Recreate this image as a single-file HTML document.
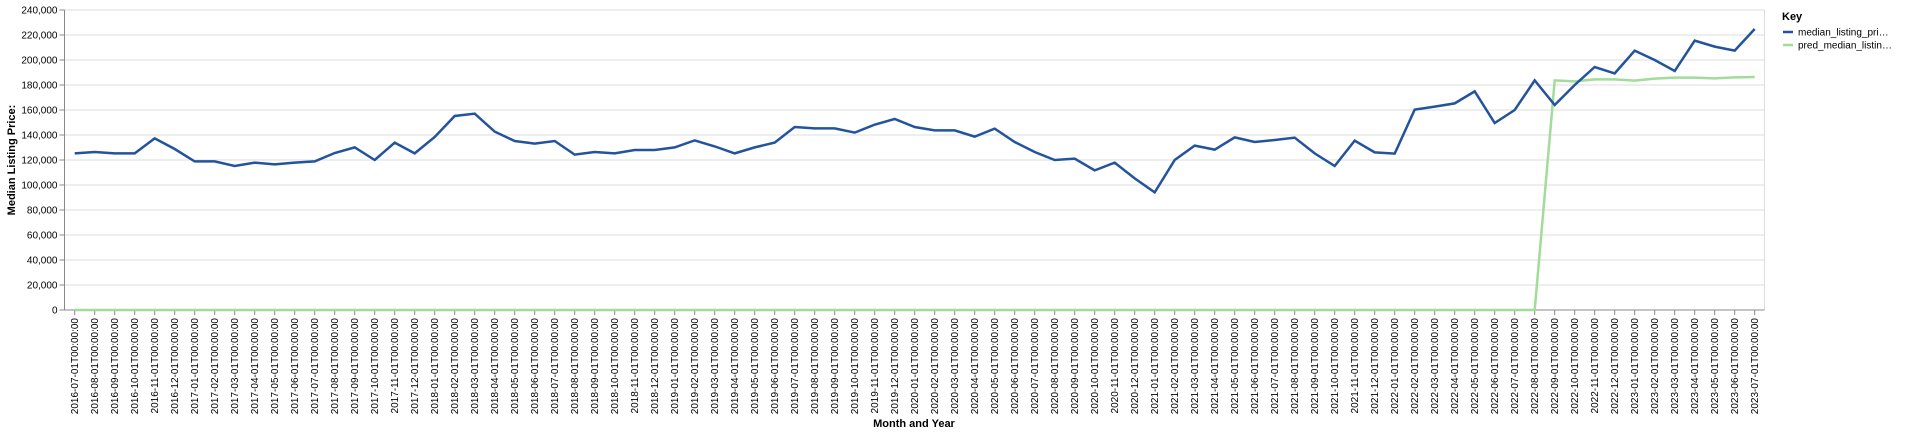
<!DOCTYPE html>
<html><head><meta charset="utf-8">
<style>
html,body{margin:0;padding:0;background:#fff;}
svg{display:block;font-family:"Liberation Sans",sans-serif;}
</style></head>
<body>
<svg id="chart" width="1920" height="434" viewBox="0 0 1920 434" xmlns="http://www.w3.org/2000/svg">
  <g id="grid"></g>
  <g id="yaxis"></g>
  <g id="xaxis"></g>
  <g id="series"></g>
  <text x="914" y="427" text-anchor="middle" font-size="11" font-weight="bold" fill="#000">Month and Year</text>
  <text transform="translate(15,160) rotate(-90)" text-anchor="middle" font-size="11" font-weight="bold" fill="#000">Median Listing Price:</text>
  <g>
    <text x="1782" y="20" font-size="11" font-weight="bold" fill="#000">Key</text>
    <g>
      <line x1="1783" y1="32" x2="1793" y2="32" stroke="#24539d" stroke-width="2.5"/>
      <text x="1798" y="35.5" font-size="10" fill="#000">median_listing_pri…</text>
    </g>
    <g>
      <line x1="1783" y1="45" x2="1793" y2="45" stroke="#a1dc99" stroke-width="2.5"/>
      <text x="1798" y="48.5" font-size="10" fill="#000">pred_median_listin…</text>
    </g>
  </g>
</svg>
<script>
const startYear = 2016, startMonth = 7, monthCount = 85;
const medianValues = [125300,126400,125300,125300,137300,128800,118900,118900,115200,117900,116500,117900,118900,125600,130100,120000,133900,125300,138400,155200,157100,142700,135200,133100,135200,124300,126400,125300,128000,128000,130100,135700,130900,125300,130100,133900,146400,145300,145300,141900,148300,152800,146400,143700,143700,138700,145100,134400,126400,120000,121100,111700,117900,105300,94100,120000,131500,128300,138100,134400,136000,137900,125300,115200,135500,126100,125100,160300,162700,165300,174900,149600,160000,183700,164000,180000,194400,189300,207500,200000,191200,215500,210700,207500,224800];
const predValues = [0,0,0,0,0,0,0,0,0,0,0,0,0,0,0,0,0,0,0,0,0,0,0,0,0,0,0,0,0,0,0,0,0,0,0,0,0,0,0,0,0,0,0,0,0,0,0,0,0,0,0,0,0,0,0,0,0,0,0,0,0,0,0,0,0,0,0,0,0,0,0,0,0,0,183700,182900,184500,184500,183500,185100,185900,185900,185300,186100,186400];
const yTicks = [0,20000,40000,60000,80000,100000,120000,140000,160000,180000,200000,220000,240000];

const categories = [];
for (let i = 0; i < monthCount; i++) {
  const m = startMonth - 1 + i;
  const y = startYear + Math.floor(m / 12);
  const mm = String(m % 12 + 1).padStart(2, '0');
  categories.push(y + '-' + mm + '-01T00:00:00');
}

const NS = 'http://www.w3.org/2000/svg';
const plotL = 64.5, plotR = 1764.5, plotT = 10, plotB = 310;
const x0 = 74.7, xStep = (1754.7 - 74.7) / (categories.length - 1);
const yMax = 240000;
function xScale(i) { return x0 + i * xStep; }
function yScale(v) { return plotB - (v / yMax) * (plotB - plotT); }
function mk(tag, attrs, parent) {
  const e = document.createElementNS(NS, tag);
  for (const k in attrs) e.setAttribute(k, attrs[k]);
  parent.appendChild(e);
  return e;
}
const grid = document.getElementById('grid');
const yaxis = document.getElementById('yaxis');
const xaxis = document.getElementById('xaxis');
const series = document.getElementById('series');

yTicks.forEach(function (t) {
  const y = yScale(t);
  const g = mk('line', {x1: plotL, x2: plotR, y1: y, y2: y, stroke: '#ddd', 'stroke-width': 1}, grid);
  
  
  mk('line', {x1: plotL - 5, x2: plotL, y1: y, y2: y, stroke: '#888', 'stroke-width': 1}, yaxis);
  const lb = mk('text', {x: plotL - 7, y: y + 3.5, 'text-anchor': 'end', 'font-size': 10, fill: '#000'}, yaxis);
  lb.textContent = t.toLocaleString('en-US');
  
  
});
mk('line', {x1: plotL, x2: plotL, y1: plotT, y2: plotB, stroke: '#888', 'stroke-width': 1}, yaxis);
mk('line', {x1: plotR, x2: plotR, y1: plotT, y2: plotB, stroke: '#ddd', 'stroke-width': 1}, grid);
mk('line', {x1: plotL, x2: plotR, y1: plotB, y2: plotB, stroke: '#888', 'stroke-width': 1}, xaxis);

categories.forEach(function (c, i) {
  const x = xScale(i);
  mk('line', {x1: x, x2: x, y1: plotB, y2: plotB + 5, stroke: '#888', 'stroke-width': 1}, xaxis);
  const lb = mk('text', {transform: 'translate(' + (x + 3.5) + ',' + (plotB + 8) + ') rotate(-90)', 'text-anchor': 'end', 'font-size': 10, fill: '#000'}, xaxis);
  lb.textContent = c;
  
  
});

function drawLine(vals, color, name) {
  const d = vals.map(function (v, i) { return (i ? 'L' : 'M') + xScale(i).toFixed(2) + ',' + yScale(v).toFixed(2); }).join('');
  const p = mk('path', {d: d, fill: 'none', stroke: color, 'stroke-width': 2.5, 'stroke-linejoin': 'miter'}, series);
  
  
}
drawLine(predValues, '#a1dc99', 'pred-median-line');
drawLine(medianValues, '#24539d', 'median-listing-price-line');
</script>
</body></html>
